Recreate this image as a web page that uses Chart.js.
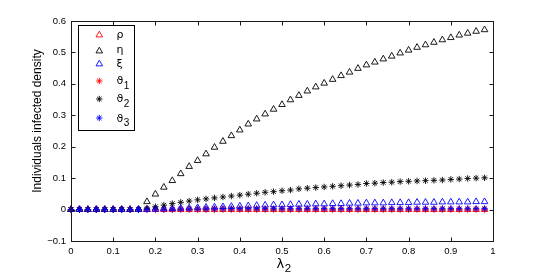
<!DOCTYPE html>
<html><head><meta charset="utf-8">
<script src="https://cdn.jsdelivr.net/npm/chart.js@4/dist/chart.umd.min.js"></script>
<style>html,body{margin:0;padding:0;background:#fff}#wrap{width:545px;height:273px;position:relative}</style>
</head><body><div id="wrap"><canvas id="c" width="545" height="273"></canvas></div>
<script>
// ---- data ----
const lambda2 = [0.00,0.02,0.04,0.06,0.08,0.10,0.12,0.14,0.16,0.18,0.20,0.22,0.24,0.26,0.28,0.30,0.32,0.34,0.36,0.38,0.40,0.42,0.44,0.46,0.48,0.50,0.52,0.54,0.56,0.58,0.60,0.62,0.64,0.66,0.68,0.70,0.72,0.74,0.76,0.78,0.80,0.82,0.84,0.86,0.88,0.90,0.92,0.94,0.96,0.98];
const rho = [0,0,0,0,0,0,0,0,0,0,0,0,0,0,0,0,0,0,0,0,0,0,0,0,0,0,0,0,0,0,0,0,0,0,0,0,0,0,0,0,0,0,0,0,0,0,0,0,0,0];
const eta = [0,0,0,0,0,0,0,0,0,0.025,0.049,0.071,0.092,0.114,0.137,0.156,0.177,0.198,0.217,0.235,0.253,0.272,0.288,0.304,0.319,0.334,0.349,0.363,0.377,0.390,0.402,0.414,0.426,0.437,0.449,0.460,0.469,0.479,0.488,0.498,0.507,0.516,0.524,0.532,0.540,0.547,0.555,0.561,0.567,0.572];
const xi = [0,0,0,0,0,0,0,0,0,0.000,0.001,0.002,0.003,0.004,0.005,0.006,0.007,0.008,0.009,0.010,0.011,0.012,0.013,0.014,0.015,0.015,0.016,0.017,0.017,0.018,0.018,0.019,0.019,0.020,0.020,0.021,0.021,0.021,0.022,0.022,0.022,0.023,0.023,0.023,0.024,0.024,0.024,0.024,0.025,0.025];
const theta1 = [0,0,0,0,0,0,0,0,0,0,0,0,0,0,0,0,0,0,0,0,0,0,0,0,0,0,0,0,0,0,0,0,0,0,0,0,0,0,0,0,0,0,0,0,0,0,0,0,0,0];
const theta2 = [0,0,0,0,0,0,0,0,0,0.004,0.009,0.014,0.019,0.023,0.027,0.031,0.034,0.037,0.040,0.043,0.046,0.049,0.052,0.055,0.057,0.060,0.062,0.066,0.068,0.070,0.072,0.074,0.076,0.078,0.080,0.083,0.084,0.086,0.087,0.089,0.090,0.091,0.092,0.093,0.094,0.096,0.097,0.099,0.100,0.101];
const theta3 = [0,0,0,0,0,0,0,0,0,0.000,0.001,0.001,0.001,0.002,0.002,0.002,0.002,0.002,0.003,0.003,0.003,0.003,0.003,0.003,0.003,0.003,0.003,0.003,0.003,0.003,0.003,0.003,0.003,0.003,0.003,0.003,0.003,0.003,0.003,0.003,0.003,0.003,0.003,0.003,0.003,0.003,0.003,0.003,0.003,0.003];
const seriesLabels = ['ρ','η','ξ','ϑ1','ϑ2','ϑ3'];
const xTicks = [0,0.1,0.2,0.3,0.4,0.5,0.6,0.7,0.8,0.9,1];
const xTickLabels = ['0','0.1','0.2','0.3','0.4','0.5','0.6','0.7','0.8','0.9','1'];
const yTicks = [-0.1,0,0.1,0.2,0.3,0.4,0.5,0.6];
const yTickLabels = ['\u22120.1','0','0.1','0.2','0.3','0.4','0.5','0.6'];
const yTitle = 'Individuals infected density';
const xTitle = 'λ2';

// ---- styling ----
const FONT = '"Liberation Sans", Arial, Helvetica, sans-serif';
const GFONT = '"DejaVu Sans", "Liberation Sans", sans-serif';
const RED = '#ff0000', BLK = '#000000', BLU = '#0000ff';
const seriesData = [rho, eta, xi, theta1, theta2, theta3];
const styles = [
  {color: RED, shape: 'triangle', r: 3.8},
  {color: BLK, shape: 'triangle', r: 3.8},
  {color: BLU, shape: 'triangle', r: 3.8},
  {color: RED, shape: 'star', r: 3.2},
  {color: BLK, shape: 'star', r: 3.2},
  {color: BLU, shape: 'star', r: 3.2}
];

const datasets = seriesData.map((arr, k) => ({
  label: seriesLabels[k],
  data: lambda2.map((x, i) => ({x: x, y: arr[i]})),
  showLine: false,
  pointStyle: styles[k].shape,
  pointRadius: styles[k].r,
  pointBorderColor: styles[k].color,
  pointBackgroundColor: 'rgba(0,0,0,0)',
  pointBorderWidth: 0.9,
  order: seriesData.length - k,
  clip: false
}));

function drawLabel(ctx, text, x, y, size, subSize, subDrop) {
  const m = text.match(/^(.*?)(\d*)$/);
  const base = m[1], sub = m[2];
  ctx.font = size + 'px ' + GFONT;
  ctx.fillText(base, x, y);
  if (sub) {
    const w = ctx.measureText(base).width;
    ctx.font = subSize + 'px ' + FONT;
    ctx.fillText(sub, x + w + 0.5, y + subDrop);
  }
}

const decor = {
  id: 'decor',
  afterDraw(chart) {
    const ctx = chart.ctx, a = chart.chartArea;
    const xs = chart.scales.x, ys = chart.scales.y;
    ctx.save();
    // frame
    ctx.strokeStyle = '#1a1a1a'; ctx.lineWidth = 1;
    const L = Math.round(a.left) + 0.5, R = Math.round(a.right) + 0.5;
    const T = Math.round(a.top) + 0.5, B = Math.round(a.bottom) + 0.5;
    ctx.strokeRect(L, T, R - L, B - T);
    // inward ticks
    ctx.beginPath();
    xTicks.forEach(v => {
      const p = Math.round(xs.getPixelForValue(v)) + 0.5;
      ctx.moveTo(p, B); ctx.lineTo(p, B - 4);
      ctx.moveTo(p, T); ctx.lineTo(p, T + 4);
    });
    yTicks.forEach(v => {
      const p = Math.round(ys.getPixelForValue(v)) + 0.5;
      ctx.moveTo(L, p); ctx.lineTo(L + 4, p);
      ctx.moveTo(R, p); ctx.lineTo(R - 4, p);
    });
    ctx.stroke();
    // y title
    ctx.fillStyle = '#000';
    ctx.save();
    ctx.translate(40.5, 121);
    ctx.rotate(-Math.PI / 2);
    ctx.font = '12px ' + FONT;
    ctx.textAlign = 'center';
    ctx.textBaseline = 'alphabetic';
    ctx.fillText(yTitle, 0, 0);
    ctx.restore();
    // x title
    ctx.textAlign = 'left'; ctx.textBaseline = 'alphabetic';
    drawLabel(ctx, xTitle, 276.5, 268, 13, 11.5, 4);
    // legend
    const bx = 78.5, by = 25.5, bw = 56, bh = 105;
    ctx.fillStyle = '#fff';
    ctx.fillRect(bx, by, bw, bh);
    ctx.strokeStyle = '#000'; ctx.lineWidth = 1;
    ctx.strokeRect(bx, by, bw, bh);
    const rowY = [35, 51, 64, 81, 99, 118];
    const baseY = [38, 52.7, 67, 84, 102, 121.5];
    chart.data.datasets.forEach((ds, k) => {
      ctx.save();
      ctx.strokeStyle = ds.pointBorderColor;
      ctx.fillStyle = 'rgba(0,0,0,0)';
      ctx.lineWidth = ds.pointBorderWidth;
      Chart.helpers.drawPoint(ctx, {
        pointStyle: ds.pointStyle, radius: ds.pointRadius, borderWidth: ds.pointBorderWidth, rotation: 0
      }, 99.3, rowY[k]);
      ctx.restore();
      ctx.fillStyle = '#000';
      ctx.textAlign = 'left'; ctx.textBaseline = 'alphabetic';
      drawLabel(ctx, ds.label, 116.5, baseY[k], 11, 10, 4.5);
    });
    ctx.restore();
  }
};

new Chart(document.getElementById('c').getContext('2d'), {
  type: 'scatter',
  data: {datasets: datasets},
  options: {
    responsive: false,
    animation: false,
    devicePixelRatio: 1,
    layout: {padding: {left: 0, right: 52, top: 21, bottom: 0}},
    plugins: {legend: {display: false}, tooltip: {enabled: false}, title: {display: false}},
    scales: {
      x: {
        type: 'linear', min: 0, max: 1,
        afterBuildTicks: s => { s.ticks = xTicks.map(v => ({value: v})); },
        afterFit: s => { s.height = 32; },
        ticks: {
          autoSkip: false, maxRotation: 0, padding: 5, color: '#000',
          font: {family: FONT, size: 9.5},
          callback: (v) => { const i = xTicks.findIndex(t => Math.abs(t - v) < 1e-9); return i >= 0 ? xTickLabels[i] : ''; }
        },
        grid: {display: false, drawTicks: false},
        border: {display: false}
      },
      y: {
        type: 'linear', min: -0.1, max: 0.6,
        afterBuildTicks: s => { s.ticks = yTicks.map(v => ({value: v})); },
        afterFit: s => { s.width = 71; },
        ticks: {
          autoSkip: false, padding: 5, color: '#000',
          font: {family: FONT, size: 9.5},
          callback: (v) => { const i = yTicks.findIndex(t => Math.abs(t - v) < 1e-9); return i >= 0 ? yTickLabels[i] : ''; }
        },
        grid: {display: false, drawTicks: false},
        border: {display: false}
      }
    }
  },
  plugins: [decor]
});
</script>
</body></html>
